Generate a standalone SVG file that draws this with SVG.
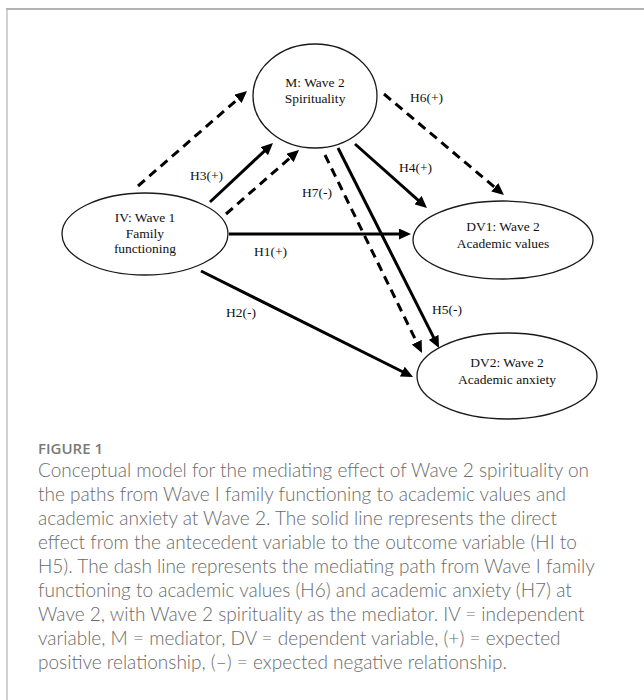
<svg xmlns="http://www.w3.org/2000/svg" width="644" height="700" viewBox="0 0 644 700">
<style>
.node{fill:#fff;stroke:#1a1a1a;stroke-width:1.3}
.nt{font-family:"Liberation Serif","Times New Roman",serif;font-size:13.5px;fill:#111;text-anchor:middle}
.lb{font-family:"Liberation Serif","Times New Roman",serif;font-size:13.5px;fill:#111}
.sol{stroke:#000;stroke-width:3;fill:none;marker-end:url(#ah)}
.dsh{stroke:#000;stroke-width:3;fill:none;stroke-dasharray:9 6;marker-end:url(#ah)}
.fig{font-family:"Open Sans","Liberation Sans",sans-serif;font-size:15px;fill:#7a7a7a;font-weight:600}
.cap{font-family:Lato,"Open Sans",sans-serif;font-size:19px;fill:#6a6a6a;font-weight:300}
</style>
<defs>
<marker id="ah" markerUnits="userSpaceOnUse" markerWidth="12" markerHeight="11" refX="2" refY="5.5" orient="auto">
<path d="M0,0 L12,5.5 L0,11 z" fill="#000"/>
</marker>
</defs>
<rect width="644" height="700" fill="#fff"/>
<g id="frame" fill="none" stroke="#b3b3b3">
<line x1="6" y1="9" x2="644" y2="9" stroke-width="2"/>
<line x1="7" y1="9" x2="7" y2="700" stroke-width="1.2"/>
</g>
<g id="connectors">
<line class="dsh" x1="138" y1="186" x2="239.5" y2="97.6"/>
<line class="sol" x1="210" y1="202" x2="265.7" y2="149.8"/>
<line class="dsh" x1="226" y1="214" x2="291.5" y2="156.6"/>
<line class="sol" x1="229" y1="234" x2="401" y2="234"/>
<line class="sol" x1="201" y1="271" x2="404.1" y2="372.5"/>
<line class="sol" x1="355" y1="144" x2="419.5" y2="201.4"/>
<line class="dsh" x1="384" y1="94" x2="496.3" y2="188.6"/>
<line class="sol" x1="338" y1="148" x2="434.5" y2="339.1"/>
<line class="dsh" x1="325" y1="155" x2="417.6" y2="344"/>
<text class="lb" x="190" y="180">H3(+)</text>
<text class="lb" x="302" y="197">H7(-)</text>
<text class="lb" x="410" y="102">H6(+)</text>
<text class="lb" x="399" y="172">H4(+)</text>
<text class="lb" x="254" y="256">H1(+)</text>
<text class="lb" x="226" y="317">H2(-)</text>
<text class="lb" x="432" y="314">H5(-)</text>
</g>
<g id="M">
<ellipse class="node" cx="315" cy="96" rx="62" ry="52"/>
<text class="nt" x="315" y="87">M: Wave 2</text>
<text class="nt" x="315" y="103">Spirituality</text>
</g>
<g id="IV">
<ellipse class="node" cx="145" cy="234" rx="83" ry="41"/>
<text class="nt" x="145" y="222">IV: Wave 1</text>
<text class="nt" x="145" y="237.5">Family</text>
<text class="nt" x="145" y="253">functioning</text>
</g>
<g id="DV1">
<ellipse class="node" cx="503" cy="240" rx="90" ry="39"/>
<text class="nt" x="503" y="231">DV1: Wave 2</text>
<text class="nt" x="503" y="248">Academic values</text>
</g>
<g id="DV2">
<ellipse class="node" cx="507" cy="376" rx="90" ry="43"/>
<text class="nt" x="507" y="367">DV2: Wave 2</text>
<text class="nt" x="507" y="384">Academic anxiety</text>
</g>
<g id="caption">
<text class="fig" x="38" y="454">FIGURE 1</text>
<text class="cap" x="38" y="477">Conceptual model for the mediating effect of Wave 2 spirituality on</text>
<text class="cap" x="38" y="501">the paths from Wave I family functioning to academic values and</text>
<text class="cap" x="38" y="525">academic anxiety at Wave 2. The solid line represents the direct</text>
<text class="cap" x="38" y="549">effect from the antecedent variable to the outcome variable (HI to</text>
<text class="cap" x="38" y="573">H5). The dash line represents the mediating path from Wave I family</text>
<text class="cap" x="38" y="597">functioning to academic values (H6) and academic anxiety (H7) at</text>
<text class="cap" x="38" y="621">Wave 2, with Wave 2 spirituality as the mediator. IV = independent</text>
<text class="cap" x="38" y="645">variable, M = mediator, DV = dependent variable, (+) = expected</text>
<text class="cap" x="38" y="669">positive relationship, (–) = expected negative relationship.</text>
</g>
</svg>
